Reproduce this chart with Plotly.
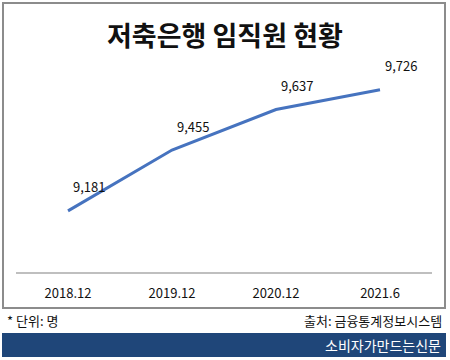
import plotly.graph_objects as go

categories = ["2018.12", "2019.12", "2020.12", "2021.6"]
values = [9181, 9455, 9637, 9726]
value_labels = ["9,181", "9,455", "9,637", "9,726"]
title_text = "저축은행 임직원 현황"
unit_text = "* 단위: 명"
source_text = "출처: 금융통계정보시스템"
brand_text = "소비자가만드는신문"

W, H = 450, 360
L, R, T, B = 16, 432, 72, 272
FONT = "Noto Sans CJK KR"

def px(x):
    return (x - L) / (R - L)

def py(y):
    return (B - y) / (B - T)

fig = go.Figure()
fig.add_trace(go.Scatter(
    x=categories, y=values, mode="lines",
    line=dict(color="#4673BF", width=3),
    hoverinfo="skip", showlegend=False,
))

annotations = []
for i, (v, t) in enumerate(zip(values, value_labels)):
    annotations.append(dict(x=i, y=v, xref="x", yref="y", text=t, showarrow=False,
                            xshift=21, yshift=24,
                            font=dict(family=FONT, size=13, color="#111111")))

annotations.append(dict(x=px(225), y=py(34), xref="paper", yref="paper", text="<b>" + title_text + "</b>",
                        showarrow=False, xanchor="center", yanchor="middle",
                        font=dict(family=FONT, size=27, color="#111111")))
annotations.append(dict(x=px(5), y=py(320), xref="paper", yref="paper", text=unit_text,
                        showarrow=False, xanchor="left", yanchor="middle",
                        font=dict(family=FONT, size=13, color="#111111")))
annotations.append(dict(x=px(444), y=py(320), xref="paper", yref="paper", text=source_text,
                        showarrow=False, xanchor="right", yanchor="middle",
                        font=dict(family=FONT, size=13, color="#111111")))
annotations.append(dict(x=px(443), y=py(345), xref="paper", yref="paper", text=brand_text,
                        showarrow=False, xanchor="right", yanchor="middle",
                        font=dict(family=FONT, size=14, color="#FFFFFF")))

shapes = [
    dict(type="rect", xref="paper", yref="paper", x0=px(3), x1=px(445), y0=py(308), y1=py(3),
         line=dict(color="#8C8C8C", width=2), fillcolor="rgba(0,0,0,0)", layer="below"),
    dict(type="rect", xref="paper", yref="paper", x0=px(2), x1=px(446), y0=py(357), y1=py(333),
         line=dict(width=0), fillcolor="#1F4679", layer="below"),
]

fig.update_layout(
    width=W, height=H,
    margin=dict(l=L, r=W - R, t=T, b=H - B),
    paper_bgcolor="white", plot_bgcolor="white",
    xaxis=dict(type="category", range=[-0.5, 3.5], showgrid=False, zeroline=False,
               showline=True, linecolor="#BFBFBF", linewidth=2,
               ticks="outside", ticklen=8, tickcolor="rgba(0,0,0,0)",
               tickfont=dict(family=FONT, size=13, color="#111111"), fixedrange=True),
    yaxis=dict(range=[8906, 9806], showgrid=False, zeroline=False, showline=False,
               showticklabels=False, fixedrange=True),
    annotations=annotations, shapes=shapes,
)

fig.write_html("out.html", config={"displayModeBar": False},
               post_script="document.body.style.margin='0';document.body.style.overflow='hidden';")
